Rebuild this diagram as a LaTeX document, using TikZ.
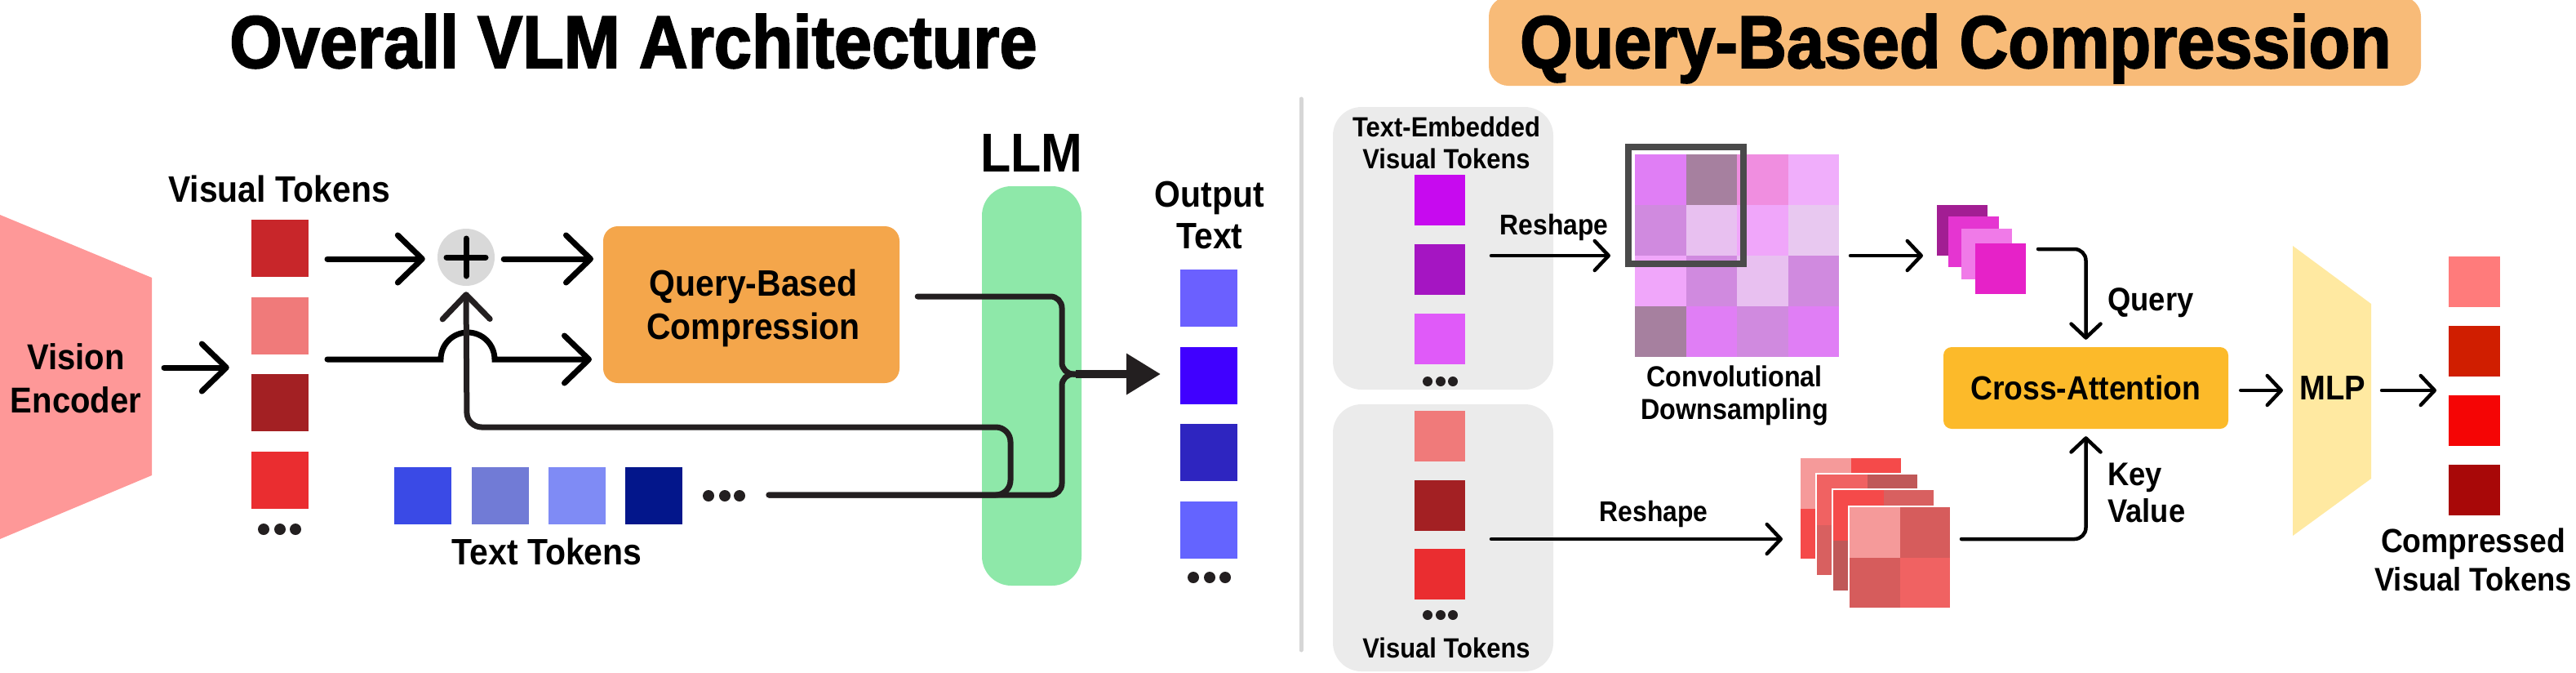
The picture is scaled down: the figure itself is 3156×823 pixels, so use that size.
\documentclass[tikz,border=0pt]{standalone}
\usepackage{fontspec}
\setmainfont{Liberation Sans}[FakeStretch=0.91]
\newfontfamily\titlefont{Liberation Sans}[FakeStretch=0.91,BoldFeatures={FakeBold=2}]
\usetikzlibrary{arrows.meta,calc}
\definecolor{encpink}{HTML}{FE9898}
\definecolor{vta}{HTML}{C8262A}
\definecolor{vtb}{HTML}{F07A7A}
\definecolor{vtc}{HTML}{A32023}
\definecolor{vtd}{HTML}{EA2D30}
\definecolor{tta}{HTML}{3A4AE6}
\definecolor{ttb}{HTML}{717BD6}
\definecolor{ttc}{HTML}{7F8BF5}
\definecolor{ttd}{HTML}{03168B}
\definecolor{ota}{HTML}{6B60FF}
\definecolor{otb}{HTML}{4000FF}
\definecolor{otc}{HTML}{2E25C0}
\definecolor{otd}{HTML}{6464FF}
\definecolor{qbcfill}{HTML}{F4A64B}
\definecolor{llmgreen}{HTML}{8EE8A9}
\definecolor{plusgray}{HTML}{D9D9D9}
\definecolor{linedark}{HTML}{231F20}
\definecolor{panelgray}{HTML}{EBEBEB}
\definecolor{sepgray}{HTML}{D6D6D6}
\definecolor{titlebox}{HTML}{F8BB78}
\definecolor{pta}{HTML}{C70AEF}
\definecolor{ptb}{HTML}{A515C2}
\definecolor{ptc}{HTML}{E05AF9}
\definecolor{ga}{HTML}{E07EF5}
\definecolor{gb}{HTML}{A6809F}
\definecolor{gc}{HTML}{F08EE0}
\definecolor{gd}{HTML}{F0AEFB}
\definecolor{ge}{HTML}{D08ADF}
\definecolor{gf}{HTML}{E8C0F0}
\definecolor{gg}{HTML}{F0A6FA}
\definecolor{gh}{HTML}{E8C8F0}
\definecolor{sa}{HTML}{A21E93}
\definecolor{sb}{HTML}{E535D1}
\definecolor{sc}{HTML}{F07AE8}
\definecolor{sd}{HTML}{E622C8}
\definecolor{framegray}{HTML}{4A4A4A}
\definecolor{cafill}{HTML}{FCBA2A}
\definecolor{mlpfill}{HTML}{FFE9A1}
\definecolor{cta}{HTML}{FF7B7B}
\definecolor{ctb}{HTML}{D01E00}
\definecolor{ctc}{HTML}{F50505}
\definecolor{ctd}{HTML}{A80808}
\definecolor{ra}{HTML}{F59A9A}
\definecolor{rb}{HTML}{F54A4A}
\definecolor{rc}{HTML}{D65C5C}
\definecolor{rd}{HTML}{F06262}
\definecolor{re}{HTML}{C05858}
\definecolor{rf}{HTML}{D86060}
\begin{document}
\begin{tikzpicture}[x=1pt,y=-1pt,
  lbl/.style={anchor=base,inner sep=0pt,font=\bfseries\fontsize{#1}{#1}\selectfont},
  lblw/.style={anchor=base west,inner sep=0pt,font=\bfseries\fontsize{#1}{#1}\selectfont},
  ttl/.style={anchor=base,inner sep=0pt,font=\titlefont\bfseries\fontsize{#1}{#1}\selectfont},
  tok/.style={minimum width=70pt,minimum height=70pt,inner sep=0pt,draw=none},
  stok/.style={minimum width=62pt,minimum height=62pt,inner sep=0pt,draw=none},
  ctok/.style={minimum width=63pt,minimum height=62pt,inner sep=0pt,draw=none},
  bigarr/.style={line width=7pt,line cap=round,-{Straight Barb[length=30pt,width=58pt,round]}},
  smallarr/.style={line width=4.5pt,line cap=round,-{Straight Barb[length=17pt,width=36pt,round]}},
  loopline/.style={line width=7pt,linedark,line cap=round},
  dotl/.style={circle,fill=linedark,minimum size=14pt,inner sep=0pt},
  dots/.style={circle,fill=linedark,minimum size=12pt,inner sep=0pt}
]
\useasboundingbox (0,0) rectangle (3156,823);

% ---------------- titles
\node[ttl=91] (titleL) at (776,83) {Overall VLM Architecture};
\fill[titlebox,rounded corners=24pt] (1824,-4) rectangle (2966,105);
\node[ttl=91] (titleR) at (2396,83) {Query-Based Compression};

% ---------------- left: encoder
\fill[encpink] (0,263) -- (186,340) -- (186,582) -- (0,660) -- cycle;
\coordinate (encE) at (186,450);
\node[lbl=44] (enc1) at (93,452) {Vision};
\node[lbl=44] (enc2) at (93,505) {Encoder};

% visual tokens
\node[lbl=45] (vtlab) at (342,247) {Visual Tokens};
\node[tok,fill=vta] (v1) at (343,304) {};
\node[tok,fill=vtb] (v2) at (343,398.5) {};
\node[tok,fill=vtc] (v3) at (343,493) {};
\node[tok,fill=vtd] (v4) at (343,587.5) {};
\node[dotl] (vd1) at (323,648) {};
\node[dotl] (vd2) at (343,648) {};
\node[dotl] (vd3) at (362,648) {};
\draw[bigarr,shorten <=15pt,shorten >=27pt] (encE) -- (v3.west |- encE);

% plus
\node[circle,fill=plusgray,minimum size=70pt,inner sep=0pt] (plus) at (571,315) {};
\draw[line width=7pt,line cap=round] ($(plus.center)+(-24,0)$) -- ++(48,0)
  ($(plus.center)+(0,-23)$) -- ++(0,46);

% QBC box
\node[rectangle,rounded corners=18pt,fill=qbcfill,minimum width=363pt,minimum height=192pt,inner sep=0pt] (qbc) at (920.5,373) {};
\node[lbl=45] (qbc1) at (923,362) {Query-Based};
\node[lbl=45] (qbc2) at (923,415) {Compression};

% LLM
\node[rectangle,rounded corners=36pt,fill=llmgreen,minimum width=122pt,minimum height=489pt,inner sep=0pt] (llm) at (1264,472.5) {};
\node[lbl=67] (llmlab) at (1264,210) {LLM};

% arrows upper / lower
\draw[bigarr] (401,317) -- ($(plus.west)+(-15,2)$);
\draw[bigarr] ($(plus.east)+(11,2)$) -- (727,317);
\draw[bigarr] (401,440) -- (540,440) arc[start angle=180,end angle=360,radius=33] -- (725,440);

% text tokens
\node[tok,fill=tta] (t1) at (518,607) {};
\node[tok,fill=ttb] (t2) at (612.5,607) {};
\node[tok,fill=ttc] (t3) at (707,607) {};
\node[tok,fill=ttd] (t4) at (801,607) {};
\node[dotl] (td1) at (868,607) {};
\node[dotl] (td2) at (888,607) {};
\node[dotl] (td3) at (906,607) {};
\node[lbl=45] (ttlab) at (670,691) {Text Tokens};

% loop lines
\draw[loopline,rounded corners=18pt,-{Straight Barb[length=30pt,width=58pt,round]}]
  (942,606) -- (1238,606) -- (1238,523) -- (572,523) -- ($(plus.south)+(0,7)$);
\draw[loopline,rounded corners=14pt] (942,606) -- (1301,606) -- (1301,458) -- (1330,458);
\draw[loopline,rounded corners=14pt] ($(qbc.east)+(22,-10)$) -- (1301,363) -- (1301,458) -- (1330,458);
\draw[line width=10pt,linedark,-{Triangle[length=42pt,width=48pt]}] (1318,458) -- (1422,458);

% output
\node[lbl=45] (out1) at (1482,253) {Output};
\node[lbl=45] (out2) at (1482,304) {Text};
\node[tok,fill=ota] (o1) at (1481,365) {};
\node[tok,fill=otb] (o2) at (1481,459.5) {};
\node[tok,fill=otc] (o3) at (1481,554) {};
\node[tok,fill=otd] (o4) at (1481,648.5) {};
\node[dotl] (od1) at (1462,707) {};
\node[dotl] (od2) at (1482,707) {};
\node[dotl] (od3) at (1501,707) {};

% ---------------- separator
\draw[sepgray,line width=5pt,line cap=round] (1594,121) -- (1594,796);

% panels
\fill[panelgray,rounded corners=35pt] (1633,131) rectangle (1903,477);
\fill[panelgray,rounded corners=35pt] (1633,495) rectangle (1903,822);
\node[lbl=34] (te1) at (1772,167) {Text-Embedded};
\node[lbl=34] (te2) at (1772,206) {Visual Tokens};
\node[stok,fill=pta] (p1) at (1764,245) {};
\node[stok,fill=ptb] (p2) at (1764,330) {};
\node[stok,fill=ptc] (p3) at (1764,414.5) {};
\node[dots] (pd1) at (1749,467) {};
\node[dots] (pd2) at (1765,467) {};
\node[dots] (pd3) at (1780,467) {};

\node[stok,fill=vtb] (r1) at (1764,533.5) {};
\node[stok,fill=vtc] (r2) at (1764,618.5) {};
\node[stok,fill=vtd] (r3) at (1764,703) {};
\node[dots] (rd1) at (1749,753) {};
\node[dots] (rd2) at (1765,753) {};
\node[dots] (rd3) at (1780,753) {};
\node[lbl=34] (vtlab2) at (1772,805) {Visual Tokens};

% upper reshape
\node[lbl=35] (resh1) at (1904,287) {Reshape};
\draw[smallarr] (1827,313) -- (1973,313);

% 4x4 grid
\foreach \c/\r/\col in {0/0/ga,1/0/gb,2/0/gc,3/0/gd,
                        0/1/ge,1/1/gf,2/1/gg,3/1/gh,
                        0/2/gg,1/2/ge,2/2/gf,3/2/ge,
                        0/3/gb,1/3/ga,2/3/ge,3/3/ga}
  \fill[\col] (2003+\c*62.5,189+\r*62) rectangle ++(62.5,62);
\draw[framegray,line width=8pt] (1994.5,179.5) rectangle (2136,322.5);
\node[lbl=35.5] (conv1) at (2125,473) {Convolutional};
\node[lbl=35.5] (conv2) at (2125,513) {Downsampling};
\draw[smallarr] (2267,313) -- (2356,313);

% purple stack
\fill[sa] (2373,251) rectangle ++(62,62);
\fill[sb] (2387,265) rectangle ++(62,62);
\fill[sc] (2403,280) rectangle ++(62,62);
\fill[sd] (2420,298) rectangle ++(62,62);

% lower reshape
\node[lbl=35] (resh2) at (2026,638) {Reshape};
\draw[smallarr] (1827,660) -- (2184,660);

% red grid stack
\foreach \gx/\gy/\qa/\qb/\qc/\qd in {2205/560/ra/rb/rb/rc,2225/580/rd/re/rf/rc,2245/599/rb/rf/re/rc,2265/620/ra/rc/rc/rd}{
  \fill[\qa] (\gx,\gy) rectangle ++(62.5,62.5);
  \fill[\qb] (\gx+62.5,\gy) rectangle ++(62.5,62.5);
  \fill[\qc] (\gx,\gy+62.5) rectangle ++(62.5,62.5);
  \fill[\qd] (\gx+62.5,\gy+62.5) rectangle ++(62.5,62.5);
  \draw[white,line width=1.5pt] (\gx,\gy) rectangle ++(125,125);
}

% cross attention
\node[rectangle,rounded corners=10pt,fill=cafill,minimum width=349pt,minimum height=100pt,inner sep=0pt] (ca) at (2555.5,475) {};
\node[lbl=41] (calab) at (2555,489) {Cross-Attention};
\draw[smallarr,rounded corners=14pt] (2497,305) -| ($(ca.north)+(0,-9)$);
\draw[smallarr,rounded corners=14pt] (2403,660) -| ($(ca.south)+(0,9)$);
\node[lblw=40] (qlab) at (2582,380) {Query};
\node[lblw=40] (klab) at (2582,594) {Key};
\node[lblw=40] (vlab) at (2582,639) {Value};

% MLP
\fill[mlpfill] (2809,301) -- (2905,372) -- (2905,586) -- (2809,656) -- cycle;
\node[lbl=42] (mlplab) at (2858,489) {MLP};
\draw[smallarr] ($(ca.east)+(15,3)$) -- (2797,478);
\draw[smallarr] (2918,478) -- (2985,478);

% compressed tokens
\node[ctok,fill=cta] (c1) at (3031.5,345) {};
\node[ctok,fill=ctb] (c2) at (3031.5,430) {};
\node[ctok,fill=ctc] (c3) at (3031.5,515) {};
\node[ctok,fill=ctd] (c4) at (3031.5,599.5) {};
\node[lbl=41] (cmp1) at (3030,676) {Compressed};
\node[lbl=40] (cmp2) at (3030,723) {Visual Tokens};
\end{tikzpicture}
\end{document}
